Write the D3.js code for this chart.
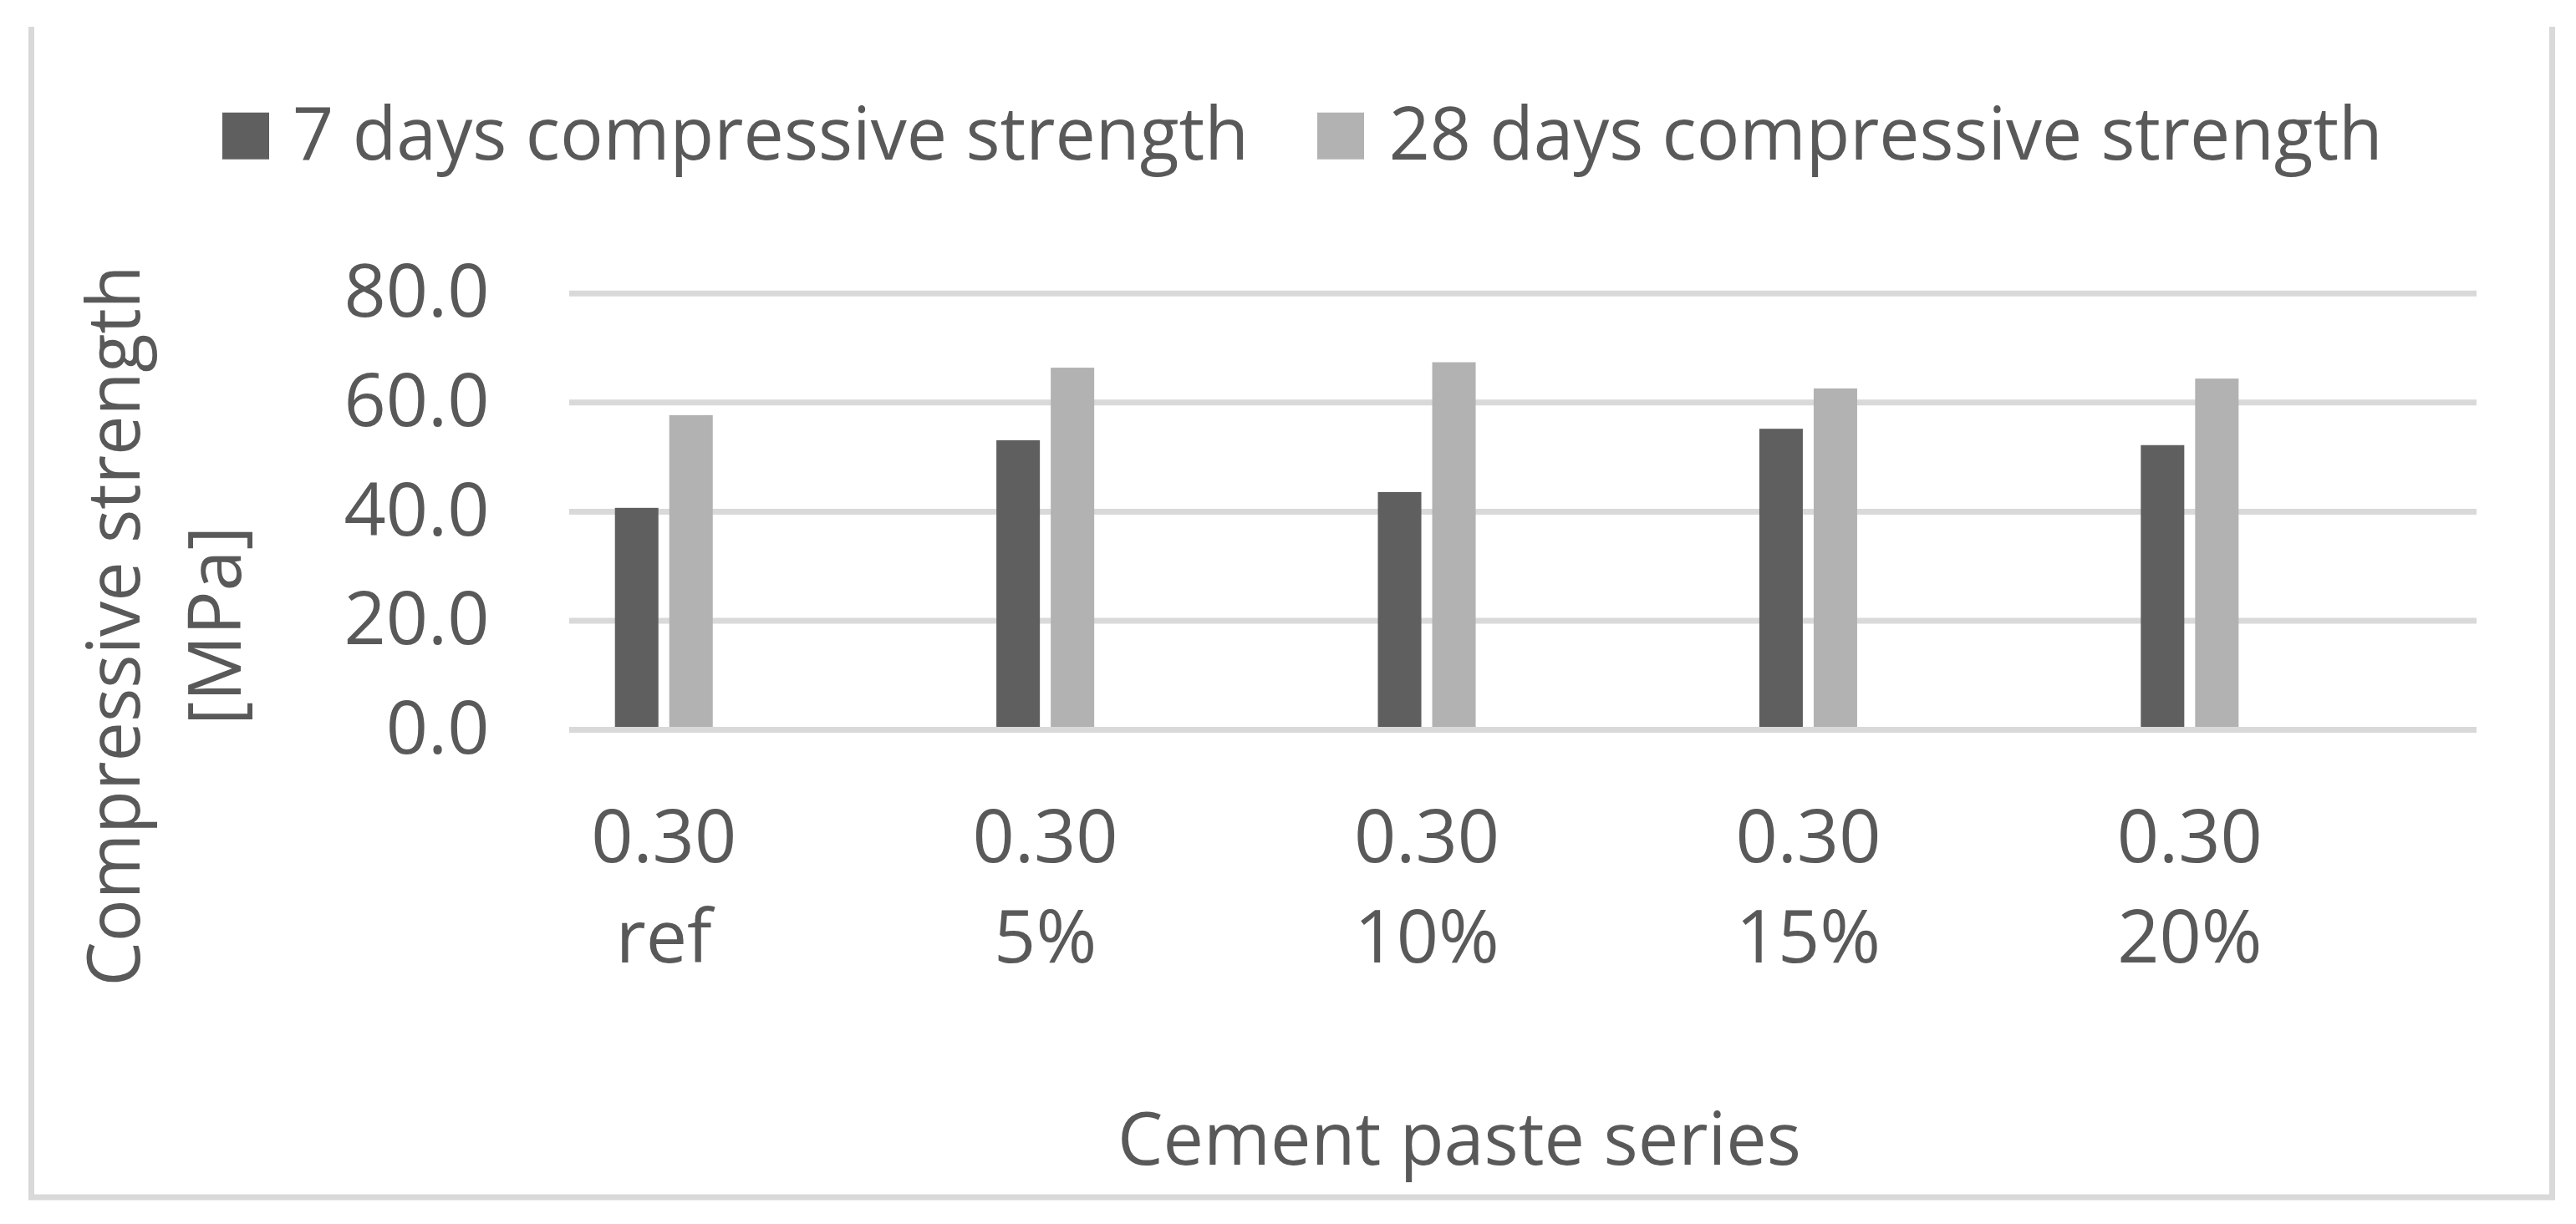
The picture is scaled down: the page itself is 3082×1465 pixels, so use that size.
<!DOCTYPE html>
<html>
<head>
<meta charset="utf-8">
<script src="https://cdn.jsdelivr.net/npm/d3@7"></script>
<style>
  html, body { margin: 0; padding: 0; background: #ffffff; }
  svg { display: block; }
  text { font-family: "Open Sans", "Noto Sans", sans-serif; fill: #595959; }
</style>
</head>
<body>
<svg id="chart" width="3082" height="1465"></svg>
<script>
// ---- data ----
const categories = ["0.30 ref", "0.30 5%", "0.30 10%", "0.30 15%", "0.30 20%"];
const categoryLines = [["0.30", "ref"], ["0.30", "5%"], ["0.30", "10%"], ["0.30", "15%"], ["0.30", "20%"]];
const seriesNames = ["7 days compressive strength", "28 days compressive strength"];
const days7 = [40.7, 53.1, 43.6, 55.2, 52.2];
const days28 = [57.7, 66.4, 67.4, 62.6, 64.4];
const yTicks = [0, 20, 40, 60, 80];
const yTickLabels = ["0.0", "20.0", "40.0", "60.0", "80.0"];
const seriesColors = ["#5f5f5f", "#b2b2b2"];

const svg = d3.select("#chart");
const fontSize = 88;
const gridColor = "#d9d9d9";

// ---- frame ----
svg.append("path")
  .attr("d", "M37.5,32 L37.5,1433 L3053.5,1433 L3053.5,32")
  .attr("fill", "none").attr("stroke", gridColor).attr("stroke-width", 7);

// ---- scales ----
const plotLeft = 681, plotRight = 2963;
const y = d3.scaleLinear().domain([0, 80]).range([873.5, 351.3]);
const x0 = d3.scaleBand().domain(categories).range([plotLeft, plotRight]).paddingInner(0).paddingOuter(0);
const bw = x0.bandwidth();
const x1 = d3.scaleBand().domain(seriesNames).range([0.1199 * bw, 0.3763 * bw]).paddingInner(0.2).paddingOuter(0);
const labelOffset = (0.1199 * bw + 0.3763 * bw) / 2;

// ---- gridlines ----
svg.append("g").selectAll("line").data(yTicks).join("line")
  .attr("x1", plotLeft).attr("x2", plotRight)
  .attr("y1", d => y(d)).attr("y2", d => y(d))
  .attr("stroke", gridColor).attr("stroke-width", 7);

// ---- y tick labels ----
svg.append("g").selectAll("text").data(yTicks).join("text")
  .attr("x", 585.5).attr("y", d => y(d)).attr("dy", "0.32em")
  .attr("text-anchor", "end").attr("font-size", fontSize)
  .text((d, i) => yTickLabels[i]);

// ---- bars ----
const seriesData = [days7, days28];
const bars = svg.append("g");
seriesNames.forEach((s, si) => {
  bars.append("g").selectAll("rect").data(categories).join("rect")
    .attr("x", c => x0(c) + x1(s))
    .attr("width", x1.bandwidth())
    .attr("y", (c, i) => y(seriesData[si][i]))
    .attr("height", (c, i) => y(0) - 3.5 - y(seriesData[si][i]))
    .attr("fill", seriesColors[si]);
});

// ---- x tick labels ----
const xl = svg.append("g").selectAll("text").data(categories).join("text")
  .attr("text-anchor", "middle").attr("font-size", fontSize);
xl.each(function(c, i) {
  const t = d3.select(this);
  const cx = x0(c) + labelOffset;
  t.append("tspan").attr("x", cx).attr("y", 1031.5).text(categoryLines[i][0]);
  t.append("tspan").attr("x", cx).attr("y", 1152).text(categoryLines[i][1]);
});

// ---- axis titles ----
svg.append("text")
  .attr("x", 1746).attr("y", 1393.7).attr("text-anchor", "middle")
  .attr("font-size", fontSize)
  .attr("textLength", 818).attr("lengthAdjust", "spacingAndGlyphs")
  .text("Cement paste series");

const yt = svg.append("g").attr("transform", "translate(166.7,749) rotate(-90)");
yt.append("text").attr("x", 0).attr("y", 0).attr("text-anchor", "middle")
  .attr("font-size", fontSize)
  .attr("textLength", 863).attr("lengthAdjust", "spacingAndGlyphs")
  .text("Compressive strength");
yt.append("text").attr("x", 0).attr("y", 121).attr("text-anchor", "middle")
  .attr("font-size", fontSize).text("[MPa]");

// ---- legend ----
const legendPos = [{sx: 266, tx: 350, w: 1144}, {sx: 1576, tx: 1661.7, w: 1189}];
const lg = svg.append("g");
seriesNames.forEach((s, i) => {
  lg.append("rect").attr("x", legendPos[i].sx).attr("y", 134.7)
    .attr("width", 56).attr("height", 56).attr("fill", seriesColors[i]);
  lg.append("text").attr("x", legendPos[i].tx).attr("y", 190.7)
    .attr("font-size", fontSize)
    .attr("textLength", legendPos[i].w).attr("lengthAdjust", "spacingAndGlyphs")
    .text(s);
});
</script>
</body>
</html>
